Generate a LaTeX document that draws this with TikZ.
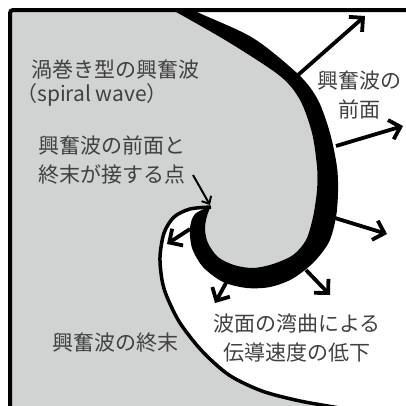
\documentclass[tikz,border=0pt]{standalone}
\usepackage{fontspec}
\setmainfont{Noto Sans CJK JP}
\usepackage{tikz}
\usetikzlibrary{arrows.meta}
\definecolor{tissue}{RGB}{209,210,210}
\definecolor{ink}{RGB}{64,64,64}

\begin{document}
\begin{tikzpicture}[x=1pt,y=-1pt,font=\fontsize{21}{29}\selectfont,
    lbl/.style={text=ink,inner sep=0pt,align=center},
    push/.style={line width=3.8pt,-{Straight Barb[length=10pt,width=20pt]}}]
  \clip (0,0) rectangle (406,405);
  % tissue, wave front and wave back
  \begin{scope}
    \clip (10,10) rectangle (420,420);
    \fill[tissue] (0,0) -- plot[smooth] coordinates {(158,3) (176,12) (230,43) (280,76) (300,100) (312,133)
        (317,167) (317,190) (313,217) (306,240) (293,255) (273,264) (253,268) (234,265) (218,257)
        (208,243) (205,229) (207,216) (211,206)}
      -- plot[smooth] coordinates {(211,207) (190,209) (174,217) (164,233) (160,257) (162,280) (167,297)
        (180,323) (202,351) (229,375) (262,391) (300,401) (340,408)}
      -- (0,420) -- cycle;
    \fill plot[smooth] coordinates {(182,3) (197,12) (253,38) (299,75) (318,100) (330,133) (337,167)
        (338,192) (336,217) (329,242) (313,263) (292,279) (270,287) (247,288) (223,282) (203,267)
        (192,248) (190,228) (195,214) (211,206)}
      -- plot[smooth] coordinates {(211,206) (207,216) (205,229) (208,243) (218,257) (234,265) (253,268)
        (273,264) (293,255) (306,240) (313,217) (317,190) (317,167) (312,133) (300,100) (280,76)
        (230,43) (176,12) (158,3)} -- cycle;
    \draw[line width=3.5pt] plot[smooth] coordinates {(211,207) (190,209) (174,217) (164,233) (160,257)
        (162,280) (167,297) (180,323) (202,351) (229,375) (262,391) (300,401) (340,408)};
  \end{scope}
  % frame
  \draw[line width=4pt,rounded corners=3pt] (10,420) -- (10,10) -- (420,10);
  % propagation of the front
  \foreach \sx/\sy/\ex/\ey in {298/75/365/16,336/146/403/126,335/218/387/234,
      306/270/330/295,226/283/215/303,190/229/167/244}
    \draw[push] (\sx,\sy) -- (\ex,\ey);
  % labels
  \node[lbl] (spiral) at (115,70) {渦巻き型の興奮波};
  \node[lbl] (spiralen) at (92,95) {（spiral wave）};
  \node[lbl] (front) at (359,95) {興奮波の\\前面};
  \node[lbl] (meet) at (112,160) {興奮波の前面と\\終末が接する点};
  \node[lbl] (slow) at (297,338) {波面の湾曲による\\伝導速度の低下};
  \node[lbl] (tail) at (115,343) {興奮波の終末};
  \coordinate (tip) at (210,205);
  \coordinate (meetfoot) at (193,175);
  \draw[line width=2pt,-{Straight Barb[length=6pt,width=11pt]}] (meetfoot) -- (tip);
\end{tikzpicture}
\end{document}
